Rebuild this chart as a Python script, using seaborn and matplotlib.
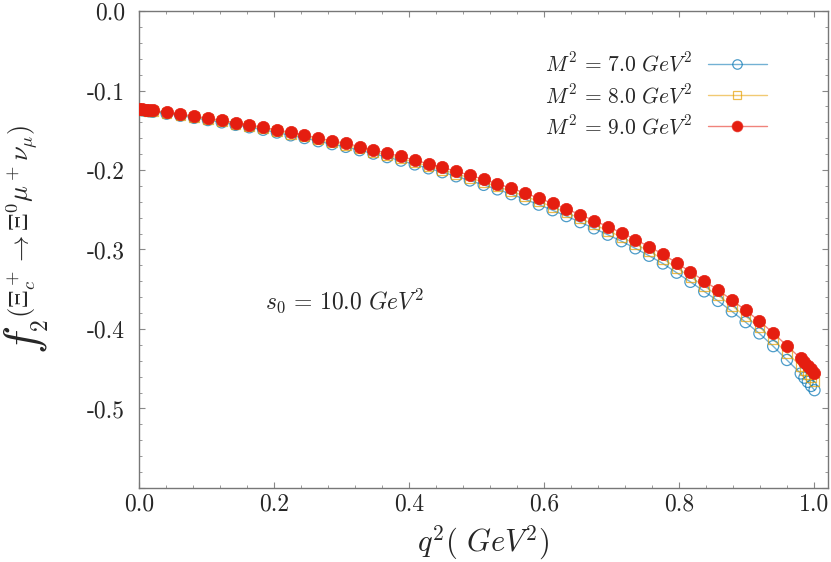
import numpy as np
import pandas as pd
import matplotlib
matplotlib.use("Agg")
import matplotlib.pyplot as plt
import seaborn as sns
from matplotlib.lines import Line2D
from matplotlib.ticker import MultipleLocator, FuncFormatter
from matplotlib.colors import to_rgba

# q^2 grid (GeV^2)
q2 = [0.0, 0.005, 0.01, 0.015, 0.0204, 0.0408, 0.0612, 0.0816, 0.102, 0.1224,
      0.1429, 0.1633, 0.1837, 0.2041, 0.2245, 0.2449, 0.2653, 0.2857, 0.3061,
      0.3265, 0.3469, 0.3673, 0.3878, 0.4082, 0.4286, 0.449, 0.4694, 0.4898,
      0.5102, 0.5306, 0.551, 0.5714, 0.5918, 0.6122, 0.6327, 0.6531, 0.6735,
      0.6939, 0.7143, 0.7347, 0.7551, 0.7755, 0.7959, 0.8163, 0.8367, 0.8571,
      0.8776, 0.898, 0.9184, 0.9388, 0.9592, 0.9796, 0.985, 0.99, 0.995, 1.0]

# f2 for M^2 = 7, 8, 9 GeV^2
f2_m7 = [-0.1245, -0.1250, -0.1256, -0.1262, -0.1268, -0.1292, -0.1317, -0.1344,
         -0.1372, -0.1401, -0.1432, -0.1463, -0.1494, -0.1529, -0.1564, -0.1598,
         -0.1638, -0.1675, -0.1709, -0.1751, -0.1794, -0.1838, -0.1882, -0.1930,
         -0.1979, -0.2028, -0.2079, -0.2132, -0.2187, -0.2244, -0.2304, -0.2368,
         -0.2436, -0.2506, -0.2580, -0.2656, -0.2734, -0.2814, -0.2896, -0.2985,
         -0.3079, -0.3176, -0.3292, -0.3407, -0.3527, -0.3647, -0.3778, -0.3914,
         -0.4056, -0.4216, -0.4390, -0.4560, -0.4613, -0.4665, -0.4717, -0.4770]
f2_m8 = [-0.1238, -0.1243, -0.1248, -0.1254, -0.1260, -0.1283, -0.1307, -0.1333,
         -0.1360, -0.1388, -0.1418, -0.1448, -0.1478, -0.1512, -0.1546, -0.1579,
         -0.1618, -0.1654, -0.1687, -0.1728, -0.1770, -0.1813, -0.1856, -0.1903,
         -0.1951, -0.1998, -0.2048, -0.2099, -0.2153, -0.2208, -0.2267, -0.2329,
         -0.2395, -0.2463, -0.2535, -0.2609, -0.2685, -0.2763, -0.2843, -0.2930,
         -0.3022, -0.3117, -0.3231, -0.3344, -0.3461, -0.3579, -0.3707, -0.3840,
         -0.3978, -0.4133, -0.4300, -0.4465, -0.4514, -0.4563, -0.4611, -0.4660]
f2_m9 = [-0.1230, -0.1235, -0.1240, -0.1246, -0.1251, -0.1273, -0.1297, -0.1322,
         -0.1348, -0.1375, -0.1404, -0.1433, -0.1462, -0.1495, -0.1528, -0.1560,
         -0.1598, -0.1633, -0.1665, -0.1705, -0.1746, -0.1788, -0.1830, -0.1876,
         -0.1922, -0.1968, -0.2016, -0.2066, -0.2118, -0.2172, -0.2229, -0.2290,
         -0.2354, -0.2420, -0.2490, -0.2562, -0.2636, -0.2712, -0.2790, -0.2875,
         -0.2965, -0.3058, -0.3170, -0.3280, -0.3395, -0.3510, -0.3635, -0.3765,
         -0.3900, -0.4050, -0.4210, -0.4370, -0.4415, -0.4460, -0.4505, -0.4550]

labels = [r"$M^2\,=\,7.0\ GeV^2$", r"$M^2\,=\,8.0\ GeV^2$", r"$M^2\,=\,9.0\ GeV^2$"]

sns.set_style("ticks")
plt.rcParams["font.family"] = ["cmr10", "DejaVu Serif"]
plt.rcParams["mathtext.fontset"] = "cm"
plt.rcParams["axes.unicode_minus"] = False

df = pd.concat([
    pd.DataFrame({"q2": q2, "f2": f2_m7, "M2": labels[0]}),
    pd.DataFrame({"q2": q2, "f2": f2_m8, "M2": labels[1]}),
    pd.DataFrame({"q2": q2, "f2": f2_m9, "M2": labels[2]}),
])

styles = {
    labels[0]: dict(color="#0072b2", marker="o", filled=False, ms=8.0),
    labels[1]: dict(color="#e69f00", marker="s", filled=False, ms=7.0),
    labels[2]: dict(color="#e51e10", marker="o", filled=True, ms=8.8),
}

fig = plt.figure(figsize=(8.31, 5.62), dpi=100)
ax = fig.add_axes([0.1673, 0.1317, 0.8291, 0.8487])

handles = []
for lab in labels:
    st = styles[lab]
    sub = df[df["M2"] == lab]
    line_c = to_rgba(st["color"], 0.55)
    sns.lineplot(data=sub, x="q2", y="f2", ax=ax, color=line_c, lw=1.0,
                 sort=False, estimator=None, legend=False)
    if st["filled"]:
        sns.scatterplot(data=sub, x="q2", y="f2", ax=ax, marker=st["marker"],
                        s=st["ms"] ** 2, color=st["color"], edgecolor=st["color"],
                        linewidth=0.5, legend=False, zorder=3)
    else:
        sns.scatterplot(data=sub, x="q2", y="f2", ax=ax, marker=st["marker"],
                        s=st["ms"] ** 2, facecolor="none",
                        edgecolor=to_rgba(st["color"], 0.7),
                        linewidth=0.9, legend=False, zorder=3)
    handles.append(Line2D([0], [0], color=line_c, lw=1.0, marker=st["marker"],
                          ms=st["ms"] * 0.85,
                          mfc=st["color"] if st["filled"] else "none",
                          mec=to_rgba(st["color"], 0.7), mew=0.9))

ax.set_xlim(0, 1.02)
ax.set_ylim(-0.6, 0.0)
ax.xaxis.set_major_locator(MultipleLocator(0.2))
ax.xaxis.set_minor_locator(MultipleLocator(0.04))
ax.yaxis.set_major_locator(MultipleLocator(0.1))
ax.yaxis.set_minor_locator(MultipleLocator(0.02))


def yfmt(v, p):
    if v < -0.55:
        return ""
    return f"{v:.1f}".replace("-0.0", "0.0")


ax.xaxis.set_major_formatter(FuncFormatter(lambda v, p: f"{v:.1f}"))
ax.yaxis.set_major_formatter(FuncFormatter(yfmt))
ax.tick_params(which="both", direction="in", top=True, right=True, color="#888888")
ax.tick_params(which="major", length=4.5, width=0.8, labelsize=17)
ax.tick_params(axis="y", which="major", pad=10)
ax.tick_params(axis="x", which="major", pad=4)
ax.tick_params(which="minor", length=2.5, width=0.6)
for sp in ax.spines.values():
    sp.set_color("#777777")
    sp.set_linewidth(1.0)

ax.set_xlabel(r"$q^2(\ GeV^2)$", fontsize=22, labelpad=6)
ax.set_ylabel("")

# y label: big f_2 with a smaller process superscript
fig.text(0.0300, 0.395, r"$f$", fontsize=34, rotation=90, ha="center", va="center")
fig.text(0.0500, 0.4200, r"$2$", fontsize=17, rotation=90, ha="center", va="center")
fig.text(0.0265, 0.605, r"$(\Xi_c^+ \to \Xi^0 \mu^+ \nu_\mu)$", fontsize=19,
         rotation=90, ha="center", va="center")

ax.text(0.187, -0.365, r"$s_0\,=\,10.0\ GeV^2$", fontsize=17, va="center", ha="left")

ax.legend(handles, labels, loc="upper right", bbox_to_anchor=(0.9115, 0.915),
          frameon=False, markerfirst=False, fontsize=15.5, handlelength=2.75,
          labelspacing=0.35, handletextpad=0.7, borderpad=0, borderaxespad=0)

fig.savefig("out.png", dpi=100)
